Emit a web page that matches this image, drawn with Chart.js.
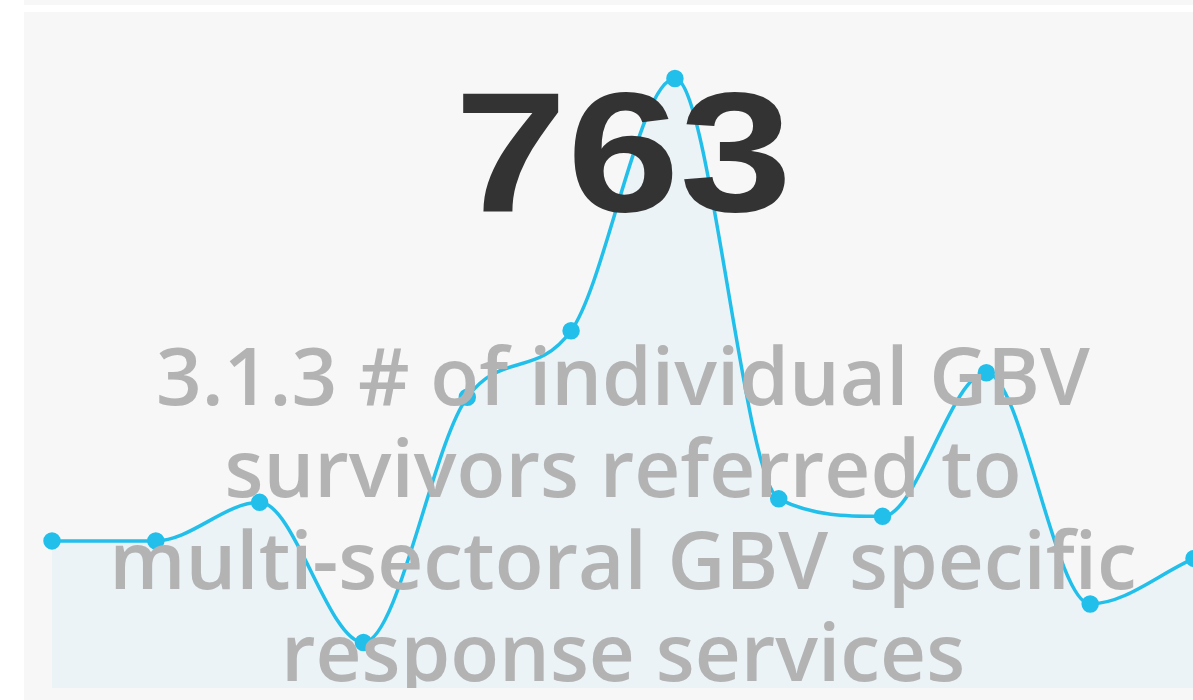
<!DOCTYPE html>
<html lang="en">
<head>
  <meta charset="UTF-8">
  <title>3.1.3 GBV survivors referred</title>
  <script src="https://cdn.jsdelivr.net/npm/chart.js"></script>
  <style>
    html, body { margin: 0; padding: 0; background: #fff; overflow: hidden; width: 1193px; height: 700px; }
    .strip { position: absolute; left: 24px; top: 0; width: 1198px; height: 5px; background: #f7f7f7; }
    .card { position: absolute; left: 24px; top: 12px; width: 1198px; height: 700px; background: #f7f7f7; }
    .inner { position: absolute; left: 0; top: 0; width: 1198px; height: 676px; overflow: hidden; }
    #graficoKpi { position: absolute; left: 0; top: 0; }
    .valor {
      position: absolute; left: 0; width: 100%; top: 40px; text-align: center;
      font-family: "Liberation Sans", Arial, sans-serif; font-weight: bold;
      font-size: 170px; line-height: 200px; color: #333;
      transform: scaleX(1.19); transform-origin: 598px 0;
    }
    .titulo {
      position: absolute; left: 0; width: 100%; top: 316px; text-align: center;
      font-family: "Open Sans", sans-serif; font-weight: 600;
      font-size: 80px; line-height: 92px; color: #b3b3b3; white-space: nowrap;
    }
  </style>
</head>
<body>
<div class="strip"></div>
<div class="card">
  <div class="inner">
    <canvas id="graficoKpi" width="1198" height="676"></canvas>
    <div class="valor">763</div>
    <div class="titulo">3.1.3 # of individual GBV<br>survivors referred to<br>multi-sectoral GBV specific<br>response services</div>
  </div>
</div>

<script>
  const periodos = ["1", "2", "3", "4", "5", "6", "7", "8", "9", "10", "11", "12"];
  const valores = [42, 42, 53, 13, 83, 102, 174, 54, 49, 90, 24, 37];

  document.addEventListener("DOMContentLoaded", () => {
    const ctx = document.getElementById("graficoKpi").getContext("2d");

    new Chart(ctx, {
      type: "line",
      data: {
        labels: periodos,
        datasets: [{
          data: valores,
          borderColor: "#22bfeb",
          backgroundColor: "#ebf3f7",
          pointBackgroundColor: "#22bfeb",
          pointBorderColor: "#22bfeb",
          borderWidth: 3.5,
          pointRadius: 7,
          fill: "origin",
          cubicInterpolationMode: "monotone"
        }]
      },
      options: {
        responsive: false,
        animation: false,
        layout: { autoPadding: false, padding: { left: 28, right: 28, top: 0, bottom: 0 } },
        plugins: { legend: { display: false }, tooltip: { enabled: false } },
        scales: {
          x: { display: false, offset: false },
          y: { display: false, min: 0, max: 193 }
        }
      }
    });
  });
</script>
</body>
</html>
